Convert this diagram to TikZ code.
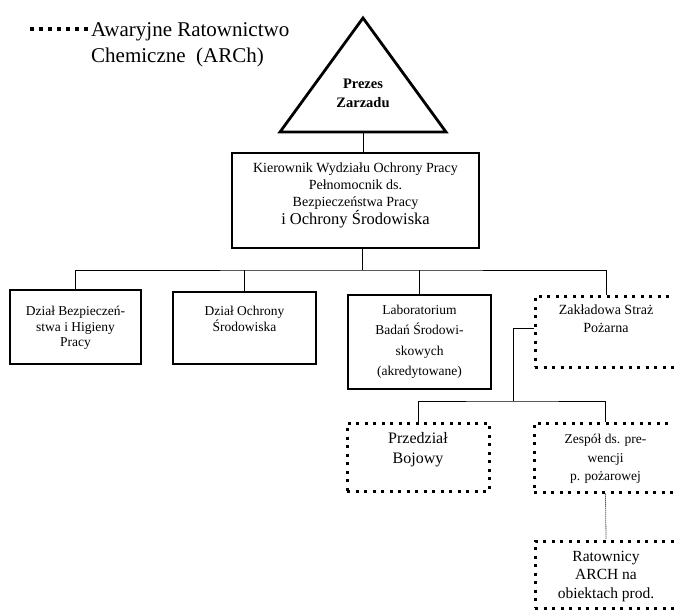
\documentclass[tikz,border=0pt]{standalone}
\usepackage{fontspec}
\setmainfont{Liberation Serif}
\usetikzlibrary{calc}
\begin{document}
\begin{tikzpicture}[x=1pt,y=-1pt,
  solidbox/.style={draw, line width=1.6pt, rectangle, inner sep=0pt},
  dotbox/.style={draw, line width=3pt, dash pattern=on 3pt off 5.5pt, rectangle, inner sep=0pt},
  txt/.style={align=center, font=\fontsize{13.5}{15.5}\selectfont, inner sep=0pt},
  conn/.style={draw, line width=0.9pt},
  dotconn/.style={draw, line width=0.8pt, dash pattern=on 1pt off 1pt}]
\useasboundingbox[fill=white] (0,0) rectangle (674,613);

% legend
\coordinate (lgA) at (30,29);
\coordinate (lgB) at (88,29);
\draw[line width=3.5pt, dash pattern=on 3.5pt off 5.5pt] (lgA) -- (lgB);
\node[anchor=west, inner sep=0pt, font=\fontsize{21}{25}\selectfont] (lg1) at (91,32) {Awaryjne Ratownictwo};
\node[anchor=west, inner sep=0pt, font=\fontsize{21}{25}\selectfont] (lg2) at (91,57) {Chemiczne\ \ (ARCh)};

% triangle
\coordinate (tA) at (363,18);
\coordinate (tL) at (280,132);
\coordinate (tR) at (446,132);
\draw[line width=2.8pt, line join=miter] (tA) -- (tL) -- (tR) -- cycle;
\coordinate (tB) at (363,132);
\node[align=center, inner sep=0pt, font=\fontsize{14.5}{19}\bfseries\selectfont] (prez) at (363,93) {Prezes\\Zarzadu};

% Kierownik
\node[solidbox, minimum width=247pt, minimum height=95pt] (kier) at (355.5,200.5) {};
\node[txt, anchor=north, font=\fontsize{14}{16.8}\selectfont] (kiertxt) at (355.5,163) {Kierownik Wydziału Ochrony Pracy\\Pełnomocnik ds.\\Bezpieczeństwa Pracy\\{\fontsize{16.5}{19.5}\selectfont i Ochrony Środowiska}};

% level 2 boxes
\node[solidbox, minimum width=131pt, minimum height=74pt] (bhp) at (75.5,327) {};
\node[txt, anchor=north] at (75.5,306) {Dział Bezpieczeń-\\stwa i Higieny\\Pracy};
\node[solidbox, minimum width=143pt, minimum height=72pt] (os) at (244.5,328) {};
\node[txt, anchor=north] at (244.5,306) {Dział Ochrony\\Środowiska};
\node[solidbox, minimum width=143pt, minimum height=94pt] (lab) at (419.5,342) {};
\node[txt, anchor=north, font=\fontsize{13.5}{20.3}\selectfont] at (419.5,305) {Laboratorium\\Badań Środowi-\\skowych\\(akredytowane)};
\node[dotbox, minimum width=142pt, minimum height=71pt] (straz) at (606,331.5) {};
\node[txt, anchor=north, font=\fontsize{14}{18}\selectfont] at (606,305) {Zakładowa Straż\\Pożarna};

% level 3 boxes
\node[dotbox, minimum width=142pt, minimum height=68pt] (przed) at (418,457) {};
\node[txt, anchor=north, font=\fontsize{16}{20}\selectfont] at (418,432) {Przedział\\Bojowy};
\node[dotbox, minimum width=143pt, minimum height=69pt] (zesp) at (605.5,457.5) {};
\node[txt, anchor=north, font=\fontsize{13.5}{18.5}\selectfont] at (605.5,434) {Zespół ds. pre-\\wencji\\p. pożarowej};
\node[dotbox, minimum width=142pt, minimum height=67pt] (rat) at (606,574.5) {};
\node[txt, anchor=north, font=\fontsize{15.5}{18.5}\selectfont] at (606,551) {Ratownicy\\ARCH na\\obiektach prod.};

% connectors
\draw[conn] (tB) -- (tB |- kier.north);
\coordinate (bus) at (362,270);
\draw[conn] (kier.south -| bus) -- (bus);
\draw[conn] (bhp.north) |- (bus) -| (straz.north);
\draw[conn] (os.north) -- (os.north |- bus);
\draw[conn] (lab.north) -- (lab.north |- bus);
\coordinate (sJ) at (513,328);
\coordinate (bus2) at (513,401);
\draw[conn] (straz.west |- sJ) -- (sJ) -- (bus2);
\draw[conn] (przed.north) |- (bus2) -| (zesp.north);
\draw[dotconn] (zesp.south) -- (rat.north);
\end{tikzpicture}
\end{document}
